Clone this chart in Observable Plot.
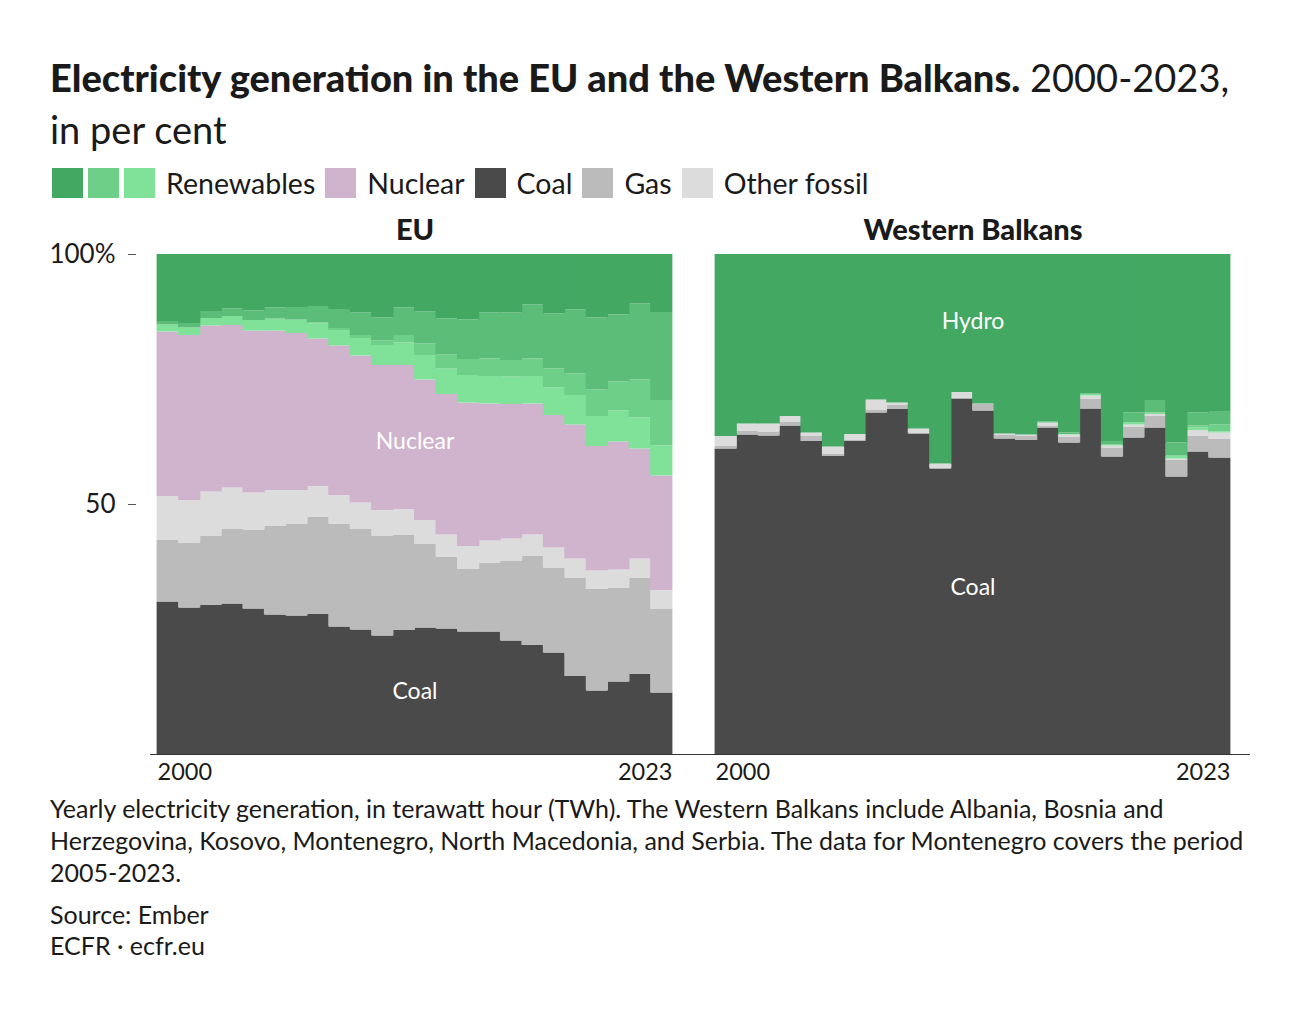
<!DOCTYPE html>
<html>
<head>
<meta charset="utf-8">
<script src="https://cdn.jsdelivr.net/npm/d3@7"></script>
<script src="https://cdn.jsdelivr.net/npm/@observablehq/plot@0.6"></script>
<style>
  body { margin: 0; background: #fff; font-family: Lato, "Noto Sans", sans-serif; color: #1a1a1a; }
  #page { position: relative; width: 1300px; height: 1016px; overflow: hidden; }
  #title { position: absolute; left: 50px; top: 51px; font-size: 38px; line-height: 52px; white-space: nowrap; }
  #title b { font-weight: 900; }
  #legend { position: absolute; left: 52px; top: 168px; display: flex; align-items: center; font-size: 28.5px; height: 30px; white-space: nowrap; }
  #legend .sw { width: 31px; height: 30px; display: inline-block; margin-right: 5px; }
  #legend .lab { margin: 0 10px 0 6px; }
  #chart { position: absolute; left: 0; top: 205px; }
  #caption { position: absolute; left: 50px; top: 792px; font-size: 25px; line-height: 32px; white-space: nowrap; }
  #source { position: absolute; left: 50px; top: 899px; font-size: 25px; line-height: 31px; white-space: nowrap; }
</style>
</head>
<body>
<div id="page">
  <div id="title"><b>Electricity generation in the EU and the Western Balkans.</b> 2000-2023,<br>in per cent</div>
  <div id="legend"></div>
  <div id="chart"></div>
  <div id="caption">Yearly electricity generation, in terawatt hour (TWh). The Western Balkans include Albania, Bosnia and<br>Herzegovina, Kosovo, Montenegro, North Macedonia, and Serbia. The data for Montenegro covers the period<br>2005-2023.</div>
  <div id="source">Source: Ember<br>ECFR · ecfr.eu</div>
</div>
<script>
// ---------- data ----------
const years = [2000,2001,2002,2003,2004,2005,2006,2007,2008,2009,2010,2011,2012,2013,2014,2015,2016,2017,2018,2019,2020,2021,2022,2023];
const regions = ["EU", "Western Balkans"];
const sources = ["Coal", "Gas", "Other fossil", "Nuclear", "Bioenergy", "Solar", "Wind", "Hydro"];
const sourceColors = ["#4a4a4a", "#bbbbbb", "#dcdcdc", "#d0b3cd", "#80e298", "#6dcf88", "#5bbd77", "#43a862"];

// EU shares, per cent
const euCoal    = [30.5,29.3,29.8,30.1,29.1,27.9,27.7,28.0,25.5,24.9,23.7,24.8,25.3,25.1,24.5,24.5,22.7,21.8,20.3,15.6,12.7,14.5,16.0,12.3];
const euGas     = [12.3,13.0,13.8,15.0,15.8,17.7,18.3,19.5,20.6,20.1,20.0,19.1,16.7,14.4,12.5,13.8,16.0,17.8,17.0,19.7,20.3,18.8,19.3,16.7];
const euOther   = [8.8,8.5,8.9,8.2,7.4,7.2,6.8,6.1,5.7,5.3,5.1,5.1,4.8,4.4,4.6,4.4,4.4,4.3,4.0,3.8,3.7,3.6,3.8,3.8];
const euNuclear = [32.9,33.0,33.2,32.5,32.4,31.9,31.4,29.5,29.9,29.4,29.0,28.8,28.1,28.1,28.7,27.4,26.9,26.2,26.5,26.8,24.9,25.6,22.0,22.9];
const euBio     = [1.4,1.5,1.5,1.8,2.1,2.3,2.6,3.0,3.1,3.5,4.0,4.5,4.9,5.1,5.5,5.5,5.5,5.5,5.5,5.9,6.0,6.2,6.2,6.0];
const euSolar   = [0,0,0,0,0,0.1,0.1,0.2,0.4,0.6,0.9,1.5,2.3,2.8,3.2,3.5,3.3,3.5,3.8,4.3,5.3,5.8,7.6,9.1];
const euWind    = [0.7,0.9,1.4,1.5,1.9,2.2,2.5,3.3,3.8,4.5,4.6,5.5,6.4,7.2,7.9,9.2,9.5,10.8,11.0,12.8,14.4,13.4,15.2,17.6];
const euHydro   = [13.4,13.8,11.4,10.9,11.3,10.7,10.6,10.4,11.0,11.7,12.7,10.7,11.5,12.9,13.1,11.7,11.7,10.1,11.9,11.1,12.7,12.1,9.9,11.6];

// Western Balkans shares, per cent
const wbCoal    = [61.1,63.9,63.7,65.7,62.6,59.6,62.6,68.3,69.0,64.1,57.1,71.1,68.7,63.1,62.8,65.3,62.3,69.1,59.5,63.3,65.3,55.5,60.5,59.3];
const wbGas     = [0.5,0.7,0.8,0.8,1.0,0.4,0.3,0.5,0.9,0.2,0.2,0.2,1.3,0.8,0.9,0.4,1.2,1.9,1.8,2.2,2.3,3.3,3.2,3.7];
const wbOther   = [2.0,1.5,1.6,1.1,0.7,1.5,1.1,2.1,0.4,0.8,0.8,1.1,0.1,0.2,0.2,0.6,0.4,0.7,0.4,0.4,0.4,0.3,1.1,1.3];
const wbNuclear = [0,0,0,0,0,0,0,0,0,0,0,0,0,0,0,0,0,0,0,0,0,0,0,0];
const wbBio     = [0,0,0,0,0,0,0,0,0,0,0,0,0,0,0,0,0.1,0.3,0.2,0.4,0.3,0.6,0.5,0.2];
const wbSolar   = [0,0,0,0,0,0,0,0,0,0,0,0,0,0,0,0,0,0,0,0,0,0,0.4,1.4];
const wbWind    = [0,0,0,0,0,0,0,0,0,0,0,0,0,0,0,0.2,0.3,0.1,0.7,2.0,2.5,2.6,2.6,2.7];
const wbHydro   = [36.4,33.9,33.9,32.4,35.7,38.5,36.0,29.1,29.7,34.9,41.9,27.6,29.9,35.9,36.1,33.5,35.7,27.9,37.4,31.7,29.2,37.7,31.7,31.4];

const yTicks = [50, 100];
const yTickLabels = ["50", "100%"];
const xTickLabels = ["2000", "2023"];

const legendLabels = ["Renewables", "Nuclear", "Coal", "Gas", "Other fossil"];
const legendSwatches = [["#43a862", "#6dcf88", "#80e298"], ["#d0b3cd"], ["#4a4a4a"], ["#bbbbbb"], ["#dcdcdc"]];

const annotations = [
  {region: "EU", label: "Nuclear", x: 2012, y: 62.6},
  {region: "EU", label: "Coal", x: 2012, y: 12.6},
  {region: "Western Balkans", label: "Hydro", x: 2012, y: 86.6},
  {region: "Western Balkans", label: "Coal", x: 2012, y: 33.4}
];

// ---------- build table ----------
const series = {
  "EU": [euCoal, euGas, euOther, euNuclear, euBio, euSolar, euWind, euHydro],
  "Western Balkans": [wbCoal, wbGas, wbOther, wbNuclear, wbBio, wbSolar, wbWind, wbHydro]
};
const rows = [];
for (const region of regions) {
  series[region].forEach((values, si) => {
    values.forEach((v, i) => rows.push({region, source: sources[si], year: years[i], value: v}));
  });
}

// ---------- legend ----------
const legend = document.getElementById("legend");
legendLabels.forEach((lab, i) => {
  legendSwatches[i].forEach(c => {
    const s = document.createElement("span");
    s.className = "sw"; s.style.background = c;
    legend.appendChild(s);
  });
  const t = document.createElement("span");
  t.className = "lab"; t.textContent = lab;
  legend.appendChild(t);
});

// ---------- chart ----------
const chart = Plot.plot({
  width: 1300,
  height: 584,
  marginLeft: 157,
  marginRight: 70,
  marginTop: 49,
  marginBottom: 35,
  style: {fontFamily: "Lato, 'Noto Sans', sans-serif", color: "#1a1a1a", background: "#fff"},
  fx: {domain: regions, paddingInner: 0.0771, paddingOuter: 0, label: null},
  x: {domain: [years[0], years[years.length - 1] + 1], label: null},
  y: {domain: [0, 100], label: null},
  color: {domain: sources, range: sourceColors},
  marks: [
    Plot.rectY(rows, {
      x: "year", interval: 1, y: "value", fill: "source", fx: "region",
      order: sources, insetLeft: -0.4, insetRight: -0.4
    }),
    Plot.text(annotations, {
      fx: "region", x: "x", y: "y", text: "label",
      fill: "white", fontSize: 23
    }),
    Plot.ruleY([{region: "EU"}], {fx: "region", y: () => 0, stroke: "#333", strokeWidth: 1.2, insetLeft: -7, insetRight: -22}),
    Plot.ruleY([{region: "Western Balkans"}], {fx: "region", y: () => 0, stroke: "#333", strokeWidth: 1.2, insetLeft: -22, insetRight: -20}),
    Plot.axisFx({anchor: "top", tickSize: 0, tickPadding: 15, fontSize: 29, fontWeight: 900, label: null}),
    Plot.axisY(yTicks, {
      anchor: "left", tickSize: 8, tickPadding: 13, dx: -21, fontSize: 26,
      tickFormat: d => yTickLabels[yTicks.indexOf(d)], label: null, stroke: "#555"
    }),
    Plot.axisX([years[0]], {
      tickSize: 0, tickPadding: 9, textAnchor: "start", fontSize: 23.5,
      tickFormat: () => xTickLabels[0], label: null
    }),
    Plot.axisX([years[years.length - 1] + 1], {
      tickSize: 0, tickPadding: 9, textAnchor: "end", fontSize: 23.5,
      tickFormat: () => xTickLabels[1], label: null
    })
  ]
});
document.getElementById("chart").appendChild(chart);
</script>
</body>
</html>
